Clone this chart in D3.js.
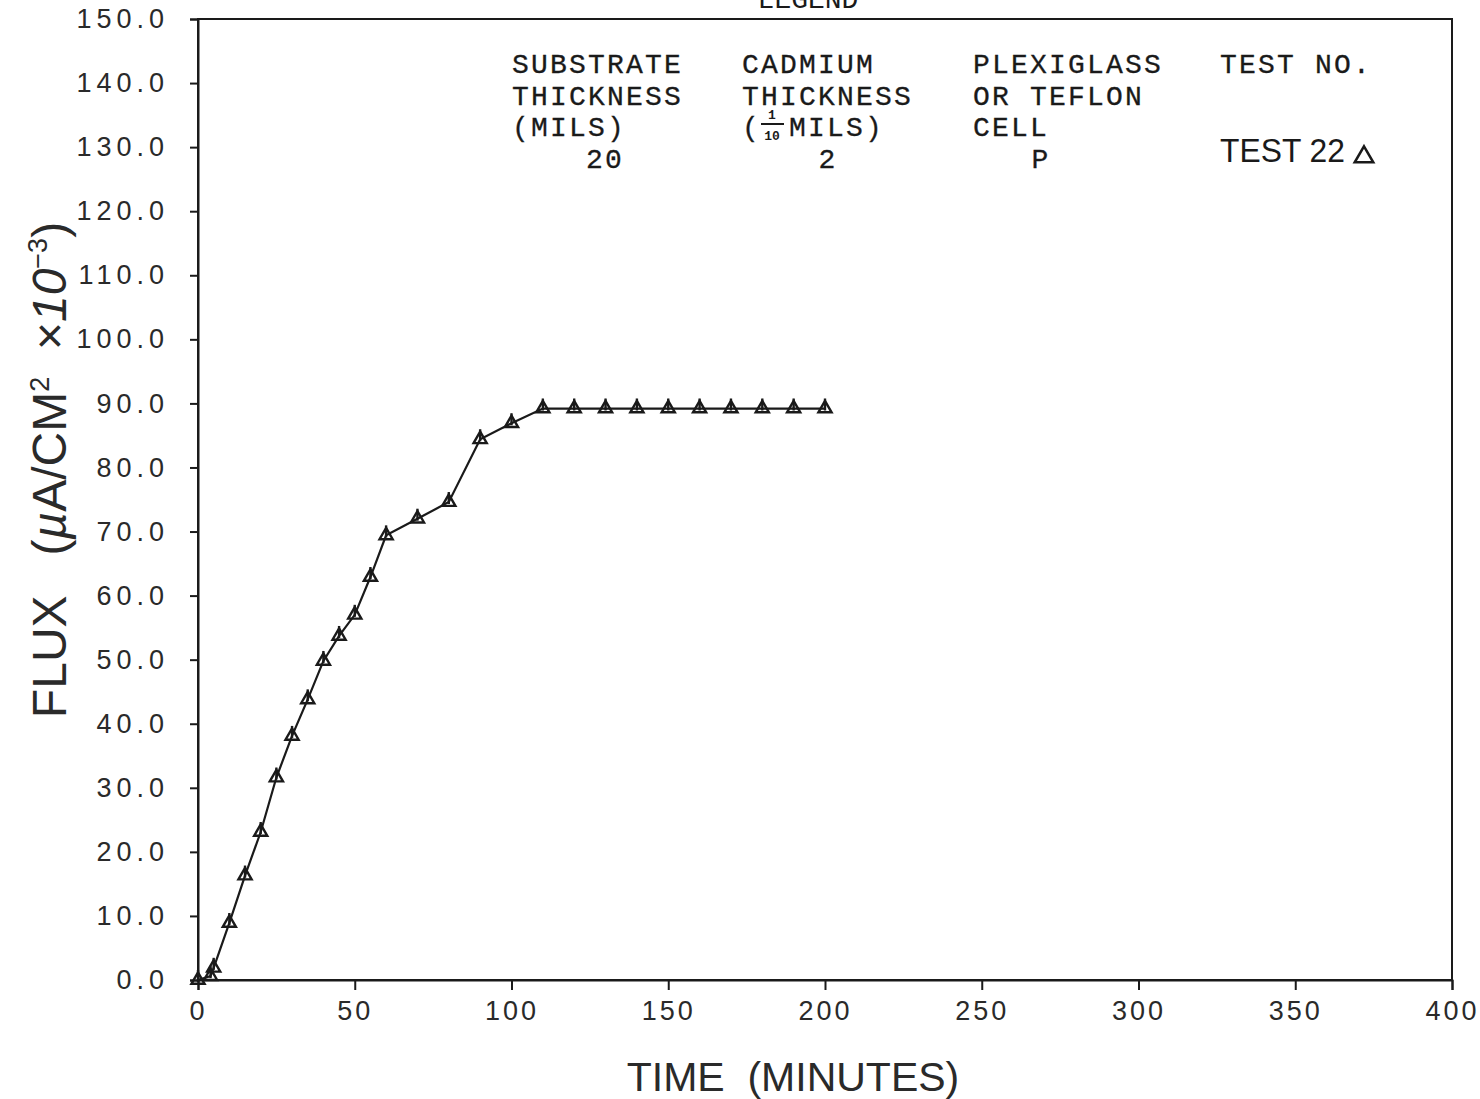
<!DOCTYPE html>
<html>
<head>
<meta charset="utf-8">
<script src="https://cdn.jsdelivr.net/npm/d3@7"></script>
<style>
  html, body { margin: 0; padding: 0; background: #ffffff; }
  svg { display: block; }
</style>
</head>
<body>
<svg id="chart" width="1480" height="1099"></svg>
<script>
// ---- data ----
const timeMinutes = [0, 4, 5, 10, 15, 20, 25, 30, 35, 40, 45, 50, 55, 60, 70, 80, 90, 100, 110, 120, 130, 140, 150, 160, 170, 180, 190, 200];
const fluxValues  = [0, 0.6, 1.9, 8.9, 16.3, 23.1, 31.6, 38.1, 43.8, 49.8, 53.7, 57.0, 62.9, 69.4, 72.0, 74.6, 84.4, 86.9, 89.2, 89.2, 89.2, 89.2, 89.2, 89.2, 89.2, 89.2, 89.2, 89.2];
const xTickValues = [0, 50, 100, 150, 200, 250, 300, 350, 400];
const yTickValues = [0, 10, 20, 30, 40, 50, 60, 70, 80, 90, 100, 110, 120, 130, 140, 150];
const legendHeaders = [
  ["SUBSTRATE", "THICKNESS", "(MILS)"],
  ["CADMIUM", "THICKNESS", null],
  ["PLEXIGLASS", "OR TEFLON", "CELL"],
  ["TEST NO.", null, null]
];
const legendValues = ["20", "2", "P", "TEST 22"];

(function () {
// ---- layout ----
const svg = d3.select("#chart");
const pl = 198, pr = 1452, pt = 19, pb = 980;
const x = d3.scaleLinear().domain([0, 400]).range([pl, pr]);
const y = d3.scaleLinear().domain([0, 150]).range([pb, pt]);
const ink = "#1a1a1a";
const tickFont = "'Liberation Sans', Arial, sans-serif";
const monoFont = "'Liberation Mono', 'Courier New', monospace";

svg.append("rect").attr("width", 1480).attr("height", 1099).attr("fill", "#ffffff");

// frame
svg.append("rect")
  .attr("x", pl).attr("y", pt)
  .attr("width", pr - pl).attr("height", pb - pt)
  .attr("fill", "none").attr("stroke", ink).attr("stroke-width", 2);

// axes
const yAxis = d3.axisLeft(y).tickValues(yTickValues).tickSize(8).tickPadding(21)
  .tickFormat(d => d.toFixed(1));
const gy = svg.append("g").attr("transform", `translate(${pl},0)`).call(yAxis);
gy.select(".domain").attr("stroke", ink).attr("stroke-width", 2);
gy.selectAll(".tick line").attr("stroke", ink).attr("stroke-width", 2);
gy.selectAll(".tick text")
  .attr("fill", "#2a2a2a")
  .style("font-family", tickFont)
  .style("font-size", "27px")
  .style("letter-spacing", "5px");

const xAxis = d3.axisBottom(x).tickValues(xTickValues).tickSize(10).tickPadding(11)
  .tickFormat(d3.format("d"));
const gx = svg.append("g").attr("transform", `translate(0,${pb})`).call(xAxis);
gx.select(".domain").attr("stroke", ink).attr("stroke-width", 2);
gx.selectAll(".tick line").attr("stroke", ink).attr("stroke-width", 2);
gx.selectAll(".tick text")
  .attr("fill", "#2a2a2a")
  .style("font-family", tickFont)
  .style("font-size", "27px")
  .style("letter-spacing", "3px");

// axis titles
svg.append("text")
  .attr("x", 793).attr("y", 1091)
  .attr("text-anchor", "middle")
  .attr("fill", "#2a2a2a")
  .style("font-family", tickFont)
  .style("font-size", "41px")
  .attr("xml:space", "preserve")
  .text("TIME  (MINUTES)");

const yt = svg.append("text")
  .attr("transform", "translate(66,470) rotate(-90)")
  .attr("text-anchor", "middle")
  .attr("fill", "#2a2a2a")
  .style("font-family", tickFont)
  .style("font-size", "48px")
  .attr("xml:space", "preserve");
yt.append("tspan").text("FLUX   (");
yt.append("tspan").style("font-style", "italic").text("µ");
yt.append("tspan").text("A/CM");
yt.append("tspan").attr("dy", -17).style("font-size", "27px").text("2");
yt.append("tspan").attr("dy", 17).text("  ×");
yt.append("tspan").style("font-style", "italic").text("10");
yt.append("tspan").attr("dy", -19).style("font-size", "27px").text("−3");
yt.append("tspan").attr("dy", 19).text(")");

// data line
const pts = timeMinutes.map((t, i) => [t, fluxValues[i]]);
svg.append("path")
  .datum(pts)
  .attr("fill", "none")
  .attr("stroke", ink)
  .attr("stroke-width", 2.2)
  .attr("d", d3.line().x(d => x(d[0])).y(d => y(d[1])));

// markers: triangle with a small spike
const tri = d3.symbol().type(d3.symbolTriangle).size(75)();
const mk = svg.append("g").selectAll("g").data(pts).join("g")
  .attr("transform", d => `translate(${x(d[0])},${y(d[1])})`);
mk.append("path").attr("d", tri)
  .attr("fill", "none").attr("stroke", ink).attr("stroke-width", 2.4);
mk.append("line").attr("x1", 0).attr("x2", 0).attr("y1", -10).attr("y2", 2)
  .attr("stroke", ink).attr("stroke-width", 2.4);

// ---- legend ----
svg.append("text")
  .attr("x", 808).attr("y", 8)
  .attr("text-anchor", "middle")
  .attr("fill", ink)
  .style("font-family", monoFont)
  .style("font-size", "28px")
  .text("LEGEND");

const colX = [512, 742, 973, 1220];
const rowY = [73, 105, 136];
const legendStyle = sel => sel
  .attr("fill", ink)
  .style("font-family", monoFont)
  .style("font-size", "28px")
  .style("letter-spacing", "2.2px")
  .style("stroke", ink).style("stroke-width", "0.3px");
legendHeaders.forEach((col, ci) => {
  col.forEach((txt, ri) => {
    if (txt === null) return;
    svg.append("text")
      .attr("x", colX[ci]).attr("y", rowY[ri])
      .call(legendStyle)
      .text(txt);
  });
});

// (1/10 MILS) with stacked fraction
const fracG = svg.append("g");
fracG.append("text").attr("x", 742).attr("y", 136).call(legendStyle).text("(");
fracG.append("text").attr("x", 772).attr("y", 119).attr("text-anchor", "middle")
  .attr("fill", ink).style("font-family", monoFont)
  .style("font-size", "13px").style("font-weight", "bold").text("1");
fracG.append("line").attr("x1", 761).attr("x2", 784).attr("y1", 124).attr("y2", 124)
  .attr("stroke", ink).attr("stroke-width", 2);
fracG.append("text").attr("x", 772).attr("y", 140).attr("text-anchor", "middle")
  .attr("fill", ink).style("font-family", monoFont)
  .style("font-size", "13px").style("font-weight", "bold").text("10");
fracG.append("text").attr("x", 789).attr("y", 136).call(legendStyle).text("MILS)");

// values row
const valX = [605, 828, 1041];
legendValues.slice(0, 3).forEach((v, i) => {
  svg.append("text")
    .attr("x", valX[i]).attr("y", 168)
    .attr("text-anchor", "middle")
    .call(legendStyle)
    .text(v);
});
svg.append("text")
  .attr("x", 1220).attr("y", 162)
  .attr("fill", ink)
  .style("font-family", "'Liberation Sans Narrow', 'Liberation Sans', sans-serif")
  .style("font-size", "34px")
  .attr("textLength", 125).attr("lengthAdjust", "spacingAndGlyphs")
  .attr("xml:space", "preserve")
  .text(legendValues[3]);
svg.append("path")
  .attr("transform", "translate(1364,157)")
  .attr("d", d3.symbol().type(d3.symbolTriangle).size(150)())
  .attr("fill", "none").attr("stroke", ink).attr("stroke-width", 2.5);
})();
</script>
</body>
</html>
